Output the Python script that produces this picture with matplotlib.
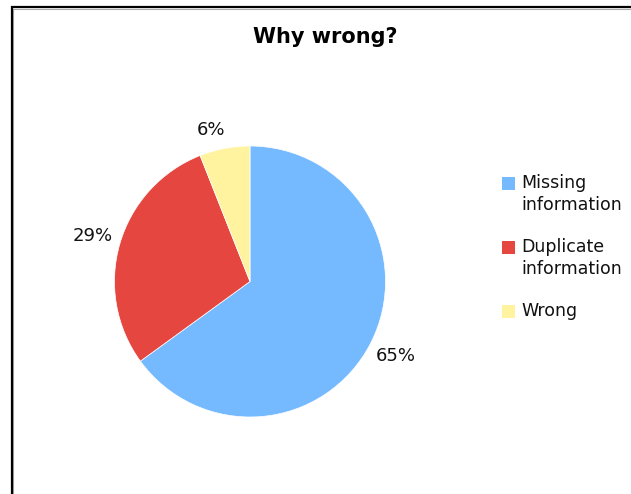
import matplotlib
matplotlib.use("Agg")
import matplotlib.pyplot as plt
from matplotlib.patches import Rectangle

# chart data
labels = ["Missing\ninformation", "Duplicate\ninformation", "Wrong"]
shares = [65, 29, 6]
colors = ["#75b9ff", "#e5463f", "#fff3a0"]
title = "Why wrong?"

W, H = 631, 494
fig = plt.figure(figsize=(W / 100, H / 100), dpi=100)
fig.patch.set_facecolor("white")

def fx(px):
    return px / W

def fy(py):
    return 1 - py / H

# outer frame, runs off the right and bottom edges
fig.add_artist(Rectangle((fx(13), fy(500)), fx(640), 500 / H - 9 / H,
                         transform=fig.transFigure, fill=False,
                         edgecolor="#aaaaaa", linewidth=0.8))
fig.add_artist(Rectangle((fx(11.5), fy(500)), fx(640), 500 / H - 7 / H,
                         transform=fig.transFigure, fill=False,
                         edgecolor="black", linewidth=1.6))

fig.text(fx(325.5), fy(37), title, ha="center", va="center",
         fontsize=15, fontweight="bold", family="DejaVu Sans")

# pie
cx, cy, r = 250, 281.5, 135.5
ax = fig.add_axes([fx(cx - r), fy(cy + r), 2 * r / W, 2 * r / H])
wedges, texts = ax.pie(shares, colors=colors, startangle=90, counterclock=False,
                       labels=[f"{v}%" for v in shares], labeldistance=1.21,
                       wedgeprops=dict(edgecolor="white", linewidth=0.5),
                       textprops=dict(fontsize=13, color="#111111"))
ax.set_xlim(-1, 1)
ax.set_ylim(-1, 1)
ax.set_aspect("auto")
for t in texts:
    t.set_clip_on(False)
    t.set_ha("center")
    t.set_va("center")
# the small slice label sits a bit further left and lower
x6, y6 = texts[2].get_position()
texts[2].set_position((x6 - 0.06, y6 - 0.07))

# legend
y = 183
for lab, col in zip(labels, colors):
    fig.add_artist(Rectangle((fx(502), fy(y + 7)), 13 / W, 13 / H,
                             transform=fig.transFigure, facecolor=col,
                             edgecolor="none"))
    lines = lab.split("\n")
    for i, line in enumerate(lines):
        fig.text(fx(521), fy(y + 22 * i), line, ha="left", va="center",
                 fontsize=12.5, color="#111111")
    y += 22 * len(lines) + 20 if len(lines) > 1 else 0

fig.savefig("out.png", dpi=100, facecolor="white")
